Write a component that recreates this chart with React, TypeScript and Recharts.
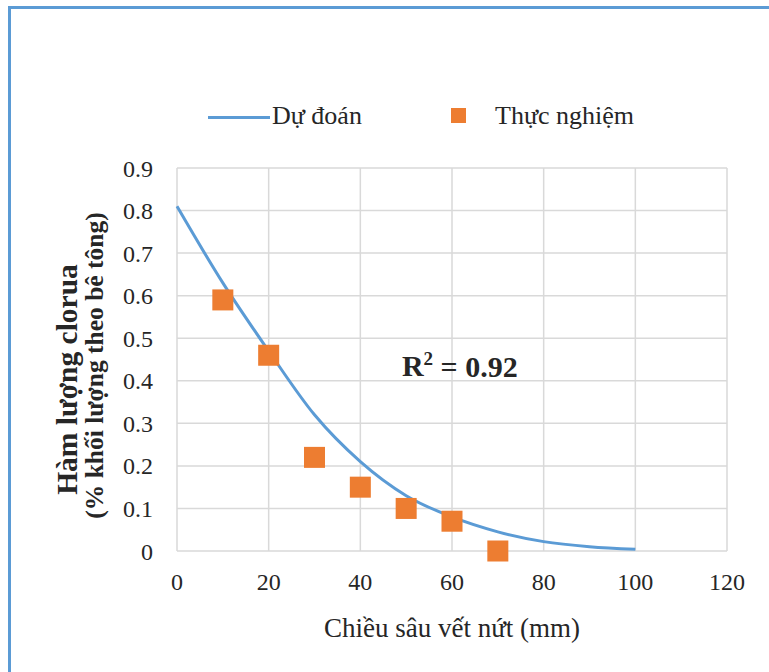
import {
  ComposedChart,
  Line,
  Scatter,
  XAxis,
  YAxis,
  CartesianGrid,
  Legend,
  ReferenceDot
} from 'recharts'

// crack depth (mm) for the predicted curve and its chloride content
const depthPred = [0, 10, 20, 30, 40, 50, 60, 70, 80, 90, 100]
const chloridePred = [0.81, 0.63, 0.47, 0.32, 0.21, 0.13, 0.08, 0.045, 0.022, 0.01, 0.004]

// measured samples
const depthTest = [10, 20, 30, 40, 50, 60, 70]
const chlorideTest = [0.59, 0.46, 0.22, 0.15, 0.1, 0.07, 0]

const xTicks = [0, 20, 40, 60, 80, 100, 120]
const yTicks = [0, 0.1, 0.2, 0.3, 0.4, 0.5, 0.6, 0.7, 0.8, 0.9]

const predData = depthPred.map((x, i) => ({ x, y: chloridePred[i] }))
const testData = depthTest.map((x, i) => ({ x, y: chlorideTest[i] }))

const BLUE = '#5b9bd5'
const ORANGE = '#ed7d31'
const FONT = '"Liberation Serif", "Times New Roman", Times, serif'
const TXT = '#262626'

const SquareDot = (props: any) => {
  const { cx, cy } = props
  if (cx == null || cy == null) return null
  return <rect x={cx - 10.5} y={cy - 10.5} width={21} height={21} fill={ORANGE} />
}

const YTitle = (props: any) => {
  const vb = props.viewBox || { x: 117, y: 168, width: 60, height: 383 }
  const mid = vb.y + vb.height / 2
  const x1 = vb.x - 50
  const x2 = vb.x - 23
  const y1 = mid + 20
  const y2 = mid + 6
  return (
    <g style={{ fontFamily: FONT, fontWeight: 'bold' }} fill={TXT}>
      <text x={x1} y={y1} textAnchor="middle" dominantBaseline="central" style={{ fontSize: 29.5 }} transform={`rotate(-90 ${x1} ${y1})`}>
        Hàm lượng clorua
      </text>
      <text x={x2} y={y2} textAnchor="middle" dominantBaseline="central" style={{ fontSize: 25.5 }} transform={`rotate(-90 ${x2} ${y2})`}>
        (% khối lượng theo bê tông)
      </text>
    </g>
  )
}

const XTitle = (props: any) => {
  const vb = props.viewBox || { x: 177, y: 551, width: 550, height: 40 }
  return (
    <text x={vb.x + vb.width / 2} y={628} textAnchor="middle" dominantBaseline="central" style={{ fontFamily: FONT, fontSize: 27 }} fill={TXT}>
      Chiều sâu vết nứt (mm)
    </text>
  )
}

const R2Label = (props: any) => {
  const { x, y } = props.viewBox || { x: 0, y: 0 }
  return (
    <text x={x} y={y} textAnchor="middle" dominantBaseline="central" style={{ fontFamily: FONT, fontSize: 30, fontWeight: 'bold' }} fill={TXT}>
      R<tspan dy={-8} style={{ fontSize: 19 }}>2</tspan>
      <tspan dy={8}> = 0.92</tspan>
    </text>
  )
}

const LegendBox = () => (
  <div style={{ position: 'relative', width: 769, height: 40, fontFamily: FONT, fontSize: 26, color: TXT }}>
    <div style={{ position: 'absolute', left: 208, top: 19, width: 62, height: 3, background: BLUE }} />
    <span style={{ position: 'absolute', left: 272, top: 5, lineHeight: '28px' }}>Dự đoán</span>
    <div style={{ position: 'absolute', left: 451, top: 11, width: 15, height: 15, background: ORANGE }} />
    <span style={{ position: 'absolute', left: 495, top: 5, lineHeight: '28px' }}>Thực nghiệm</span>
  </div>
)

const tickStyle = { fontFamily: FONT, fontSize: 24, fill: TXT }

export default function App() {
  return (
    <div
      style={{
        position: 'absolute',
        left: 0,
        top: 0,
        width: 769,
        height: 672,
        background: '#fff',
        overflow: 'hidden',
        fontFamily: FONT
      }}
    >
      <div
        style={{
          position: 'absolute',
          left: 8,
          top: 6,
          width: 800,
          height: 700,
          borderLeft: `3px solid ${BLUE}`,
          borderTop: `3px solid ${BLUE}`
        }}
      />
      <ComposedChart
        width={769}
        height={672}
        margin={{ top: 128, right: 42, bottom: 81, left: 117 }}
        style={{ position: 'absolute', left: 0, top: 0, fontFamily: FONT }}
      >
        <CartesianGrid stroke="#d9d9d9" strokeWidth={1.5} />
        <XAxis
          type="number"
          dataKey="x"
          domain={[0, 120]}
          ticks={xTicks}
          height={40}
          axisLine={false}
          tickLine={false}
          tickSize={0}
          tickMargin={22}
          tick={tickStyle}
          label={<XTitle />}
        />
        <YAxis
          type="number"
          dataKey="y"
          domain={[0, 0.9]}
          ticks={yTicks}
          width={60}
          axisLine={false}
          tickLine={false}
          tickSize={0}
          tickMargin={24}
          tick={tickStyle}
          label={<YTitle />}
        />
        <Legend
          verticalAlign="top"
          wrapperStyle={{ position: 'absolute', top: 97, left: 0, width: 769, height: 40 }}
          content={() => <LegendBox />}
        />
        <Line
          data={predData}
          dataKey="y"
          name="Dự đoán"
          type="monotone"
          stroke={BLUE}
          strokeWidth={3}
          dot={false}
          activeDot={false}
          isAnimationActive={false}
        />
        <Scatter
          data={testData}
          dataKey="y"
          name="Thực nghiệm"
          fill={ORANGE}
          shape={<SquareDot />}
          isAnimationActive={false}
        />
        <ReferenceDot x={61.7} y={0.435} r={0} stroke="none" fill="none" label={<R2Label />} />
      </ComposedChart>
    </div>
  )
}
